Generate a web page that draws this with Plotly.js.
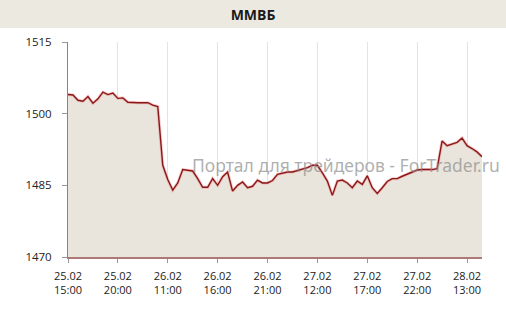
<!DOCTYPE html>
<html>
<head>
<meta charset="utf-8">
<script src="https://cdn.plot.ly/plotly-3.0.1.min.js"></script>
<style>html,body{margin:0;padding:0;background:#fff;}#chart{width:506px;height:309px;}</style>
</head>
<body>
<div id="chart"></div>
<script>
// Chart data
const chartTitle = "ММВБ";
const watermark = "Портал для трейдеров - ForTrader.ru";
const values = [
  1504.0, 1503.9, 1502.8, 1502.6, 1503.6, 1502.2, 1503.1, 1504.5, 1504.0, 1504.3,
  1503.2, 1503.3, 1502.4, 1502.3, 1502.3, 1502.3, 1502.3, 1501.8, 1501.5, 1489.2,
  1486.2, 1484.0, 1485.5, 1488.3, 1488.1, 1488.0, 1486.4, 1484.6, 1484.6, 1486.4,
  1485.0, 1486.8, 1487.8, 1483.8, 1485.0, 1485.7, 1484.5, 1484.8, 1486.1, 1485.5,
  1485.5, 1486.0, 1487.3, 1487.6, 1487.8, 1487.8, 1488.1, 1488.3, 1488.7, 1489.2,
  1489.2, 1487.6, 1485.9, 1482.9, 1485.9, 1486.1, 1485.5, 1484.5, 1485.9, 1485.2,
  1487.0, 1484.5, 1483.3, 1484.5, 1485.8, 1486.4, 1486.4, 1486.9, 1487.3, 1487.8,
  1488.2, 1488.3, 1488.3, 1488.3, 1488.5, 1494.3, 1493.3, 1493.7, 1494.0, 1494.9,
  1493.3, 1492.7, 1492.0, 1491.0
];
const tickIndex = [0, 10, 20, 30, 40, 50, 60, 70, 80];
const tickDates = ["25.02", "25.02", "26.02", "26.02", "26.02", "27.02", "27.02", "27.02", "28.02"];
const tickTimes = ["15:00", "20:00", "11:00", "16:00", "21:00", "12:00", "17:00", "22:00", "13:00"];
const yTicks = [1470, 1485, 1500, 1515];

const xs = values.map((v, i) => i);
const tickText = tickDates.map((d, i) => d + "<br>" + tickTimes[i]);

const W = 506, H = 309;
const m = {l: 68, r: 24, t: 42, b: 52};
const pw = W - m.l - m.r, ph = H - m.t - m.b;

const traces = [
  {x: xs, y: values, type: "scatter", mode: "lines", fill: "tozeroy",
   fillcolor: "#E9E5DD", line: {color: "rgba(235,120,120,0.4)", width: 3}, hoverinfo: "skip"},
  {x: xs, y: values, type: "scatter", mode: "lines",
   line: {color: "#8A1818", width: 1.4}, hoverinfo: "skip"}
];

const layout = {
  width: W, height: H,
  margin: m,
  paper_bgcolor: "#ffffff",
  plot_bgcolor: "#ffffff",
  showlegend: false,
  font: {family: "Open Sans, Noto Sans, sans-serif", size: 11, color: "#222"},
  title: {text: "<b>" + chartTitle + "</b>", x: 0.5, xref: "container", xanchor: "center",
          y: 1 - 15 / H, yref: "container", yanchor: "middle",
          font: {family: "Open Sans, sans-serif", size: 14, color: "#1a1a1a"}},
  xaxis: {
    range: [0, values.length - 1], tickmode: "array", tickvals: tickIndex, ticktext: tickText,
    showgrid: true, gridcolor: "#E3E3E3", gridwidth: 1,
    showline: true, linecolor: "#B07878", linewidth: 1.5,
    ticks: "outside", ticklen: 4, tickcolor: "#999", ticklabelstandoff: 4,
    zeroline: false, fixedrange: true,
    tickfont: {family: "Open Sans, sans-serif", size: 11, color: "#222"}
  },
  yaxis: {
    range: [1470, 1515], tickmode: "array", tickvals: yTicks,
    showgrid: false, showline: true, linecolor: "#A07A7A", linewidth: 1,
    ticks: "outside", ticklen: 5, tickcolor: "#999", ticklabelstandoff: 8,
    zeroline: false, fixedrange: true,
    tickfont: {family: "Open Sans, sans-serif", size: 11.5, color: "#222"}
  },
  shapes: [{
    type: "rect", xref: "paper", yref: "paper", layer: "below",
    x0: -m.l / pw, x1: 1 + m.r / pw, y0: 1 + (m.t - 28) / ph, y1: 1 + m.t / ph,
    fillcolor: "#ECE9E1", line: {width: 0}
  }],
  annotations: [{
    text: watermark, xref: "paper", yref: "paper",
    x: (190 - m.l) / pw, xanchor: "left", y: 1 - (165 - m.t) / ph, yanchor: "middle",
    showarrow: false,
    font: {family: "Noto Sans, sans-serif", size: 17.5, color: "rgba(140,140,140,0.7)"}
  }]
};

Plotly.newPlot("chart", traces, layout, {staticPlot: true, displayModeBar: false});
</script>
</body>
</html>
